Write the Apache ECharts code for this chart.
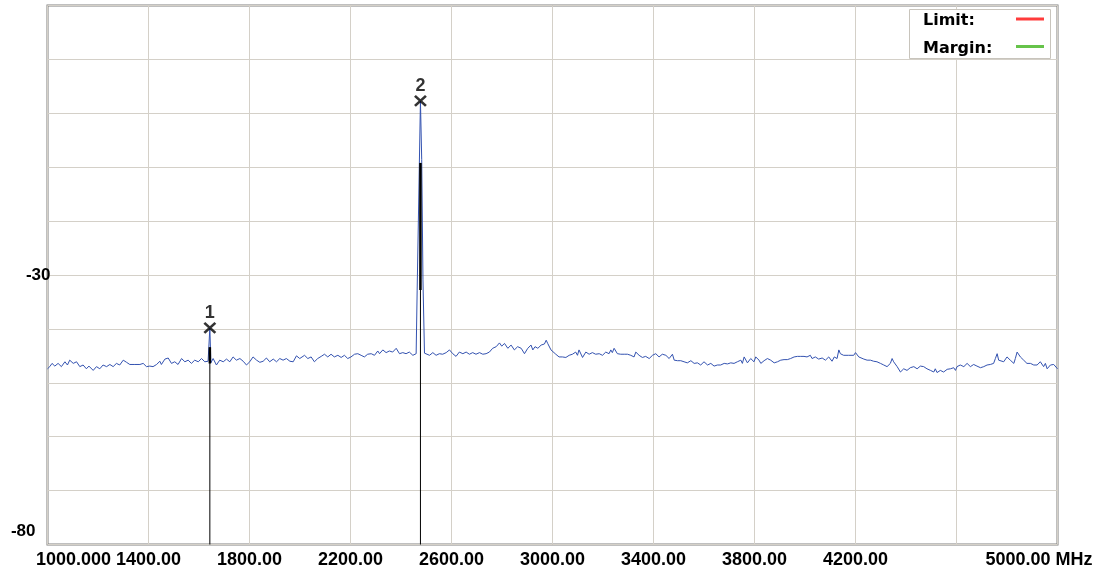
<!DOCTYPE html>
<html><head><meta charset="utf-8">
<script src="https://cdn.jsdelivr.net/npm/echarts@6/dist/echarts.min.js"></script>
<style>html,body{margin:0;padding:0;background:#fff}#c{width:1105px;height:573px}</style>
</head><body><div id="c"></div>
<script>
// Sweep trace (MHz, dBm)
const traceFreq = [
1000,1009,1018,1029,1042,1055,1069,1079,1088,1102,1115,1128,1141,1154,1164,1181,1194,1207,1220,1234,
1247,1260,1273,1286,1300,1313,1326,1346,1366,1379,1392,1405,1418,1432,1445,1451,1465,1478,1491,1504,
1517,1531,1544,1557,1570,1583,1597,1610,1623,1636,1639,1643,1647,1656,1669,1682,1696,1709,1722,1735,
1748,1762,1775,1788,1801,1814,1828,1841,1854,1867,1880,1894,1907,1920,1933,1946,1960,1973,1986,1999,
2004,2018,2031,2044,2057,2070,2084,2097,2110,2123,2136,2150,2163,2176,2189,2196,2202,2216,2229,2242,
2255,2268,2282,2295,2308,2315,2328,2341,2354,2367,2381,2394,2407,2420,2433,2447,2460,2464,2477,2482,
2487,2493,2499,2513,2526,2539,2552,2565,2579,2592,2605,2618,2631,2645,2658,2671,2684,2697,2711,2724,
2737,2750,2763,2777,2790,2799,2810,2823,2836,2849,2862,2876,2889,2902,2915,2922,2931,2942,2955,2968,
2975,2981,2994,3013,3026,3039,3053,3066,3079,3092,3099,3105,3119,3132,3145,3158,3171,3185,3198,3211,
3224,3231,3237,3244,3257,3270,3284,3297,3310,3323,3330,3343,3356,3369,3383,3396,3409,3422,3435,3449,
3462,3475,3482,3495,3508,3521,3534,3548,3561,3574,3587,3600,3614,3627,3640,3653,3666,3680,3693,3706,
3719,3732,3746,3752,3759,3772,3785,3798,3805,3818,3825,3838,3851,3864,3878,3891,3904,3917,3930,3943,
3957,3970,3983,3996,4008,4021,4028,4041,4054,4068,4081,4094,4107,4116,4127,4134,4140,4153,4173,4193,
4200,4213,4219,4233,4246,4259,4272,4285,4299,4312,4325,4338,4345,4351,4365,4378,4391,4404,4417,4431,
4444,4457,4470,4483,4497,4510,4516,4523,4536,4549,4563,4576,4589,4596,4602,4615,4629,4642,4655,4668,
4681,4695,4708,4721,4734,4747,4754,4761,4767,4774,4787,4800,4813,4827,4833,4840,4853,4866,4879,4893,
4906,4919,4932,4945,4952,4959,4972,4985,5000
];
const traceLevel = [
-47.4,-47.0,-46.4,-46.9,-46.4,-47.0,-46.1,-46.7,-45.8,-46.4,-46.1,-47.0,-46.7,-47.4,-46.9,-47.7,-47.0,-47.4,-46.7,-47.0,
-46.6,-47.0,-46.4,-46.7,-45.8,-46.2,-46.6,-46.6,-46.6,-46.4,-47.0,-46.9,-47.0,-46.6,-46.0,-46.6,-45.6,-45.4,-46.4,-46.1,
-46.6,-45.5,-46.1,-45.8,-46.4,-45.8,-46.1,-45.5,-46.1,-46.0,-46.2,-39.8,-46.3,-45.5,-46.7,-45.8,-46.1,-45.6,-46.1,-45.2,
-45.8,-45.5,-46.0,-46.7,-46.1,-45.2,-45.8,-46.2,-46.0,-45.4,-46.1,-45.6,-46.1,-45.5,-45.8,-45.5,-46.0,-46.1,-45.0,-45.5,
-45.2,-44.9,-45.5,-45.2,-46.1,-45.5,-45.1,-44.7,-45.2,-44.7,-45.2,-44.9,-45.3,-44.9,-45.5,-45.8,-45.2,-44.7,-44.6,-44.9,
-45.2,-44.7,-44.6,-44.9,-44.1,-44.6,-43.9,-44.4,-44.1,-44.3,-43.6,-44.6,-44.4,-44.6,-44.3,-44.9,-44.6,-32.8,2.3,-8.6,
-30.9,-44.5,-44.4,-44.9,-44.4,-44.9,-44.6,-44.7,-44.4,-43.9,-44.6,-45.1,-44.3,-44.6,-44.3,-44.7,-44.4,-44.7,-44.4,-44.7,
-44.6,-44.3,-43.6,-43.3,-42.6,-43.2,-42.7,-43.6,-43.0,-43.9,-43.3,-43.6,-44.6,-43.6,-43.0,-43.9,-43.3,-43.6,-43.0,-42.8,
-42.1,-42.7,-43.9,-44.7,-45.2,-45.2,-45.3,-44.9,-44.7,-44.3,-44.9,-43.9,-45.3,-44.3,-44.7,-44.4,-44.7,-44.6,-44.9,-44.3,
-44.6,-43.9,-44.4,-43.6,-44.6,-44.7,-44.7,-44.7,-44.9,-45.2,-44.3,-44.9,-45.3,-45.1,-45.5,-44.9,-44.6,-45.2,-44.7,-44.9,
-45.5,-44.7,-45.8,-45.9,-45.9,-46.1,-46.3,-45.9,-46.4,-46.3,-46.7,-46.1,-46.7,-46.4,-46.9,-46.7,-46.7,-46.4,-46.5,-46.3,
-46.4,-46.1,-45.8,-46.4,-45.2,-46.3,-45.5,-46.1,-45.2,-45.8,-46.4,-45.9,-45.5,-45.8,-46.3,-46.1,-45.8,-45.7,-45.7,-45.5,
-45.2,-45.1,-45.1,-45.1,-45.2,-44.9,-45.5,-45.2,-45.6,-45.4,-45.8,-45.2,-46.0,-45.2,-45.5,-43.9,-44.6,-44.9,-44.9,-44.9,
-44.4,-45.2,-44.9,-45.6,-45.8,-45.8,-46.0,-46.1,-46.4,-46.7,-47.0,-46.4,-45.5,-46.1,-47.0,-48.0,-47.4,-47.7,-47.2,-47.0,
-47.4,-46.9,-47.0,-47.4,-47.7,-48.0,-47.4,-48.1,-47.7,-48.0,-47.5,-47.4,-47.2,-47.7,-47.0,-46.7,-47.0,-46.4,-47.0,-46.6,
-46.9,-47.2,-47.0,-46.7,-46.6,-46.4,-45.5,-44.6,-45.8,-45.5,-46.1,-45.2,-45.8,-46.4,-45.5,-44.3,-45.2,-45.8,-46.4,-46.4,
-46.7,-46.7,-46.1,-47.0,-46.4,-47.4,-46.7,-46.6,-47.4
];
// Markers
const markerNames = ['1', '2'];
const markerFreq = [1643, 2477];
const markerLevel = [-39.8, 2.3];
// Black hold trace at the marker frequencies: top and start of the heavy part
const holdTop = [-43.4, -9.2];
const holdBase = [-46.4, -32.8];
// Axes
const xTickValues = [1000, 1400, 1800, 2200, 2600, 3000, 3400, 3800, 4200, 4600, 5000];
const xTickLabels = ['1000.000', '1400.00', '1800.00', '2200.00', '2600.00', '3000.00', '3400.00', '3800.00', '4200.00', '', '5000.00 MHz'];
const yTickValues = [-30, -80];
const yTickLabels = ['-30', '-80'];
// Legend
const legendNames = ['Limit:', 'Margin:'];
const legendColors = ['#ff3b3b', '#66c34a'];

const FONT = '"Liberation Sans", Arial, sans-serif';
const LFONT = 'bold 16px "DejaVu Sans", sans-serif';
const chart = echarts.init(document.getElementById('c'), null, {renderer: 'canvas'});

const traceData = traceFreq.map((f, i) => [f, traceLevel[i]]);
const series = [
  {name: legendNames[0], type: 'line', data: [], color: legendColors[0]},
  {name: legendNames[1], type: 'line', data: [], color: legendColors[1]},
  {
    name: 'trace', type: 'line', data: traceData, showSymbol: false, z: 2,
    lineStyle: {color: '#3352b0', width: 1}, color: '#3352b0', silent: true
  }
];
markerFreq.forEach((f, i) => {
  series.push({
    type: 'line', data: [[f, -80], [f, holdTop[i]]], showSymbol: false, z: 3, silent: true,
    lineStyle: {color: '#000', width: 1}
  });
  series.push({
    type: 'line', data: [[f, holdBase[i]], [f, holdTop[i]]], showSymbol: false, z: 3, silent: true,
    lineStyle: {color: '#000', width: 2.5}
  });
});
series.push({
  type: 'scatter', z: 5, silent: true,
  data: markerFreq.map((f, i) => ({value: [f, markerLevel[i]], name: markerNames[i]})),
  symbol: 'path://M0,0L10,10M10,0L0,10', symbolSize: [11, 10],
  itemStyle: {color: 'rgba(0,0,0,0)', borderColor: '#000', borderWidth: 2.5},
  label: {
    show: true, position: 'top', distance: 0, formatter: p => p.name,
    fontFamily: FONT, fontWeight: 'bold', fontSize: 18, color: '#000'
  }
});

// Legend box (drawn as graphic so the text sits left and the swatch right)
const legendGraphics = [{
  type: 'rect', x: 0, y: 0, z: 100,
  shape: {x: 909.5, y: 9.5, width: 141, height: 49},
  style: {fill: '#fff', stroke: '#c8c4bc', lineWidth: 1}
}];
legendNames.forEach((n, i) => {
  const cy = 20 + i * 27.5;
  legendGraphics.push({
    type: 'text', x: 923, y: cy + 1, z: 101,
    style: {text: n, font: LFONT, fill: '#000', textVerticalAlign: 'middle', verticalAlign: 'middle'}
  });
  legendGraphics.push({
    type: 'line', x: 0, y: 0, z: 101,
    shape: {x1: 1016, y1: cy - 1, x2: 1044, y2: cy - 1},
    style: {stroke: legendColors[i], lineWidth: 3}
  });
});

chart.setOption({
  animation: false,
  backgroundColor: '#fff',
  grid: {
    left: 47.5, right: 47.5, top: 5.5, bottom: 28.5,
    show: true, borderColor: '#808080', borderWidth: 2, backgroundColor: '#fff', containLabel: false
  },
  legend: {show: false, data: legendNames},
  graphic: legendGraphics,
  xAxis: {
    type: 'value', min: 1000, max: 5000, interval: 400,
    axisLine: {show: false}, axisTick: {show: false},
    splitLine: {show: true, lineStyle: {color: '#d4d0c8', width: 1}},
    axisLabel: {
      margin: 7, color: '#000', fontFamily: FONT, fontWeight: 'bold', fontSize: 18,
      showMinLabel: true, showMaxLabel: true,
      formatter: v => {
        const i = xTickValues.indexOf(v);
        if (i < 0) return '';
        const t = xTickLabels[i];
        if (i === 0) return '{first|' + t + '}';
        if (i === xTickValues.length - 1) return '{last|' + t + '}';
        return t;
      },
      rich: {
        first: {fontFamily: FONT, fontWeight: 'bold', fontSize: 18, color: '#000', padding: [0, 0, 0, 52]},
        last: {fontFamily: FONT, fontWeight: 'bold', fontSize: 18, color: '#000', padding: [0, 37, 0, 0]}
      }
    }
  },
  yAxis: {
    type: 'value', min: -80, max: 20, interval: 10,
    axisLine: {show: false}, axisTick: {show: false},
    splitLine: {show: true, lineStyle: {color: '#d4d0c8', width: 1}},
    axisLabel: {
      margin: -3, color: '#000', fontFamily: FONT, fontWeight: 'bold', fontSize: 17,
      showMinLabel: true,
      formatter: v => {
        const i = yTickValues.indexOf(v);
        if (i < 0) return '';
        return (i === 0 ? '{a|' : '{b|') + yTickLabels[i] + '}';
      },
      rich: {
        a: {fontFamily: FONT, fontWeight: 'bold', fontSize: 17, color: '#000'},
        b: {fontFamily: FONT, fontWeight: 'bold', fontSize: 17, color: '#000', padding: [0, 15, 27, 0]}
      }
    }
  },
  series: series
});
</script>
</body></html>
